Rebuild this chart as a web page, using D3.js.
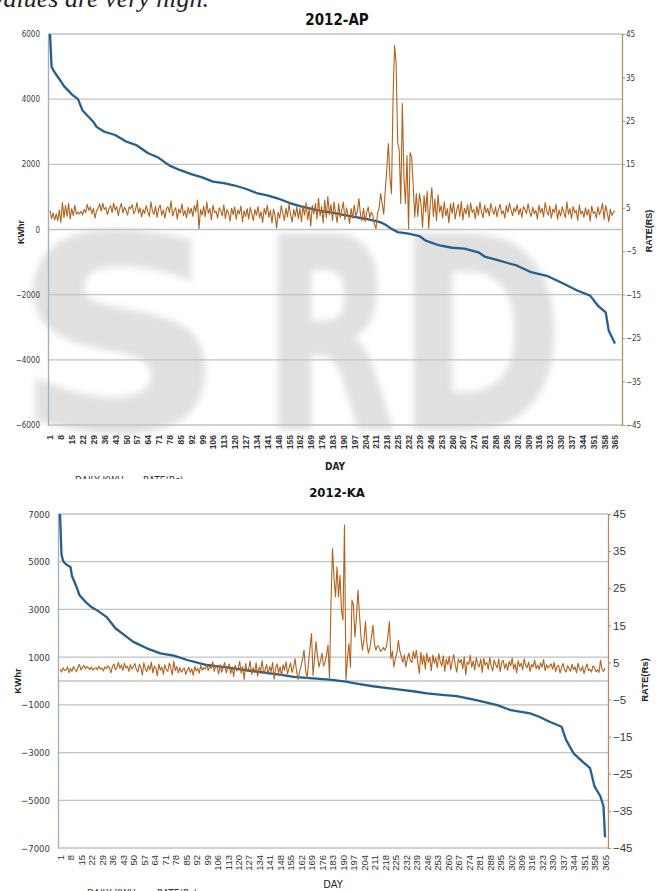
<!DOCTYPE html>
<html lang="en">
<head>
<meta charset="UTF-8">
<title>2012-AP / 2012-KA daily KWhr and rate</title>
<script src="https://d3js.org/d3.v7.min.js"></script>
<style>
  body { margin: 0; background: #fff; }
  svg { display: block; }
</style>
</head>
<body>
<svg width="661" height="891"></svg>
<script>
// ---- data ----
// x-axis labels (every 7th day)
var dayTicks = [1,8,15,22,29,36,43,50,57,64,71,78,85,92,99,106,113,120,127,134,141,148,155,162,169,176,183,190,197,204,211,218,225,232,239,246,253,260,267,274,281,288,295,302,309,316,323,330,337,344,351,358,365];
var rateTicks = [-45,-35,-25,-15,-5,5,15,25,35,45];
var apKwhTicks = [-6000,-4000,-2000,0,2000,4000,6000];
var kaKwhTicks = [-7000,-5000,-3000,-1000,1000,3000,5000,7000];

// 2012-AP : sorted daily KWhr, read at these days
var apDays = [1,2,3,5,8,10,12,15,19,22,25,29,31,36,43,50,57,64,71,78,85,92,99,106,113,120,127,134,141,148,155,162,169,176,183,190,197,204,211,214,218,221,225,232,239,243,252,260,268,277,281,290,302,311,321,330,341,349,354,359,361,363,365];
var apKwh = [6000,5000,4900,4750,4550,4400,4300,4150,4000,3650,3500,3300,3150,3000,2900,2700,2580,2350,2200,1960,1820,1700,1600,1470,1420,1350,1250,1120,1050,950,820,720,640,560,520,450,390,330,260,220,120,20,-80,-130,-200,-340,-490,-560,-590,-700,-830,-950,-1110,-1310,-1420,-1620,-1880,-2030,-2340,-2540,-3110,-3310,-3500];
// 2012-AP : rate (Rs), day 1..365
var apRate = [
 4.4,2.5,3.8,2.2,3.6,2.0,4.5,1.6,6.2,2.8,5.5,3.0,6.0,2.4,4.8,3.2,5.6,3.5,4.0,3.6,
 4.2,3.4,4.6,3.9,5.8,4.4,5.2,3.6,4.9,2.6,4.3,4.8,5.9,4.2,6.0,4.6,5.1,3.4,4.7,5.5,
 3.9,6.1,4.4,5.3,3.2,4.9,6.0,3.8,5.1,4.4,3.3,5.2,4.8,5.7,3.6,4.4,6.2,3.8,5.0,2.9,
 4.6,3.7,5.5,4.1,3.0,6.4,4.2,3.5,5.3,2.8,4.9,5.6,3.3,4.5,2.6,4.8,5.2,3.9,6.6,3.1,
 4.3,5.0,2.4,4.7,3.8,5.9,3.2,4.4,2.7,5.1,3.6,4.9,3.0,5.5,4.1,6.8,0.2,4.6,3.3,5.4,
 2.9,6.3,3.7,4.8,2.2,5.6,3.9,4.2,2.6,5.0,4.4,3.1,5.7,2.5,4.6,3.8,1.9,4.9,3.4,5.2,
 2.3,4.5,3.6,5.4,1.8,4.3,3.0,4.8,2.4,5.1,3.7,2.0,4.6,3.3,5.3,2.7,4.1,1.6,4.9,3.5,
 5.6,2.8,4.4,1.5,4.7,3.2,0.3,4.0,2.6,5.5,3.8,2.1,4.9,2.9,5.8,3.4,1.7,4.6,3.0,5.2,
 2.5,4.8,1.8,5.4,3.3,6.2,2.2,4.7,0.8,5.5,3.6,6.0,2.4,7.2,3.1,5.3,1.5,6.8,2.7,7.6,
 3.4,5.8,2.0,6.4,3.7,1.6,5.9,2.8,4.5,6.3,2.2,5.0,3.3,1.4,4.8,2.6,5.6,3.1,4.2,7.1,
 3.5,2.0,4.9,1.8,3.9,5.2,2.7,4.0,3.2,1.2,0.2,3.8,4.8,8.3,6.0,3.5,
 9.0,14.0,19.8,12.0,8.3,30.0,42.4,38.0,20.0,18.3,6.0,29.0,12.0,6.0,17.0,0.2,17.7,16.6,10.0,2.9,
 8.3,3.0,8.3,6.0,0.5,7.8,4.0,8.8,0.2,6.0,9.6,3.0,7.0,2.0,8.0,4.0,
 5.5,2.6,6.4,3.1,4.8,1.5,5.9,3.7,6.2,2.4,4.4,5.8,3.0,6.5,2.2,4.9,3.6,5.7,2.8,6.1,
 3.9,4.6,2.5,5.4,3.3,6.3,4.0,2.7,5.6,3.8,4.9,3.1,6.0,4.4,3.5,5.2,2.9,4.7,5.8,3.6,
 4.3,2.6,5.5,3.9,6.1,4.5,3.2,5.0,4.1,5.7,3.4,4.8,2.8,5.3,4.6,3.7,5.9,4.0,3.0,5.1,
 3.6,4.4,2.4,5.6,3.8,4.9,2.9,6.2,4.2,3.3,5.4,2.6,4.7,3.9,5.8,2.3,4.5,3.1,5.2,4.0,
 2.7,6.4,3.5,4.8,2.5,5.3,3.8,4.4,2.1,5.7,3.6,4.2,2.8,5.0,3.3,4.6,1.9,5.4,3.7,4.1,
 2.6,5.2,3.4,4.5,6.0,2.3,5.5,3.9,1.8,4.7,3.2,4.0,4.3
];

// 2012-KA : sorted daily KWhr, read at these days
var kaDays = [1,2,3,4,6,8,9,12,14,18,22,26,32,38,44,50,59,68,77,86,99,108,117,128,139,150,157,170,181,192,200,210,220,228,238,246,256,266,279,293,302,315,321,328,336,339,344,350,355,358,362,364,365];
var kaKwh = [7000,5300,5050,4950,4850,4780,4400,3950,3600,3320,3100,2950,2690,2210,1920,1640,1370,1160,1060,880,670,600,530,430,340,250,170,110,60,-30,-120,-220,-300,-360,-440,-520,-580,-630,-800,-1010,-1220,-1360,-1500,-1710,-1920,-2470,-3030,-3380,-3650,-4420,-4840,-5260,-6550];
// 2012-KA : rate (Rs), day 1..365
var kaRate = [
 3.2,2.4,3.6,2.8,3.0,3.8,2.2,3.4,2.6,3.9,3.1,2.5,3.7,4.5,3.0,3.6,4.2,3.3,3.9,3.5,
 3.1,3.8,2.9,3.4,3.6,3.0,4.0,3.2,3.5,2.7,3.8,3.3,4.1,3.6,2.2,3.9,4.6,3.0,3.7,5.0,
 3.4,4.3,2.8,4.8,3.5,4.0,2.6,4.4,3.2,3.9,4.7,3.1,2.4,4.5,3.6,1.6,4.9,3.3,2.5,4.2,
 3.0,5.1,2.2,4.0,3.4,1.4,4.6,2.9,3.8,1.8,4.4,3.1,2.6,4.8,3.5,1.6,5.3,2.8,3.9,2.2,
 3.6,2.4,3.0,3.5,1.8,2.9,3.7,2.3,3.3,1.5,3.9,2.7,3.4,2.1,4.2,2.9,3.6,3.2,4.5,2.8,
 3.9,3.4,5.2,2.6,4.1,3.6,1.9,4.4,2.4,3.7,5.0,2.2,3.5,4.6,2.0,3.8,1.2,4.3,2.7,3.4,
 5.3,2.1,3.9,0.4,4.7,2.6,3.3,5.4,1.8,3.6,2.4,4.9,1.3,3.7,2.8,5.5,2.0,3.1,4.4,1.7,
 3.9,2.5,5.0,0.5,3.4,4.6,2.2,3.8,1.4,4.4,2.9,5.2,1.9,3.5,4.8,2.3,3.7,6.0,2.6,0.4,
 2.5,4.0,6.0,8.3,3.0,0.8,5.0,9.0,12.8,1.5,6.0,10.6,6.5,3.8,5.5,7.5,4.0,5.0,7.0,9.7,
 0.8,20.9,35.7,28.0,22.7,30.8,22.7,28.5,19.1,16.4,42.0,0.3,6.0,10.1,3.8,21.8,20.4,11.9,17.0,24.5,
 18.0,11.9,8.3,11.0,16.0,10.0,7.5,9.0,11.9,15.0,10.0,8.3,9.5,9.2,8.0,8.3,9.0,8.3,9.2,12.0,
 16.0,6.0,8.0,3.8,6.0,7.5,11.0,8.0,6.6,5.0,7.0,3.8,6.0,7.5,5.5,5.0,8.0,6.0,8.3,5.0,
 2.0,7.8,4.5,6.9,3.2,7.5,5.0,6.4,2.8,7.0,4.8,6.2,3.5,7.4,5.2,4.0,6.8,2.6,5.9,4.4,
 6.6,3.0,5.5,7.1,4.2,2.4,6.0,4.9,5.8,3.3,6.5,1.6,5.2,4.5,6.9,3.7,5.4,2.9,6.3,4.6,
 3.8,5.9,2.3,6.1,4.3,5.0,3.1,6.4,4.0,2.7,5.7,4.4,3.5,6.0,2.5,4.9,5.6,3.4,4.7,2.9,
 5.3,4.1,6.2,3.2,4.6,2.2,5.5,3.9,4.8,3.0,6.0,4.2,3.6,5.1,2.6,4.5,3.8,5.6,3.3,4.3,
 3.1,4.9,3.7,5.8,2.8,4.4,3.5,4.0,4.6,3.2,5.0,2.5,3.9,4.2,2.1,3.6,4.7,3.0,2.4,4.1,
 3.4,2.6,4.5,3.1,3.8,2.2,4.8,3.3,2.7,4.0,2.0,3.5,4.6,2.8,3.2,2.4,4.1,3.6,2.5,3.0,
 2.3,5.6,3.1,2.6,3.5
];

var narrow = "'DejaVu Sans Condensed', 'Liberation Sans', sans-serif";

var svg = d3.select("svg");
var defs = svg.append("defs");
defs.append("filter").attr("id", "blur")
    .attr("x", "-10%").attr("y", "-10%").attr("width", "120%").attr("height", "120%")
  .append("feGaussianBlur").attr("stdDeviation", 3.5);
defs.append("clipPath").attr("id", "topClip")
  .append("rect").attr("x", 0).attr("y", 0).attr("width", 661).attr("height", 479);

// cut-off line of body text above the first chart
svg.append("text")
    .attr("x", -8).attr("y", 7)
    .attr("font-family", "Liberation Serif").attr("font-style", "italic")
    .attr("font-size", 26).attr("fill", "#222")
    .text("values are very high.");

// faint watermark behind the first chart
var wm = svg.append("g").attr("filter", "url(#blur)")
    .attr("font-family", "DejaVu Sans").attr("font-weight", "bold")
    .attr("font-size", 270).attr("fill", "#e0e0e0");
wm.append("text").attr("x", 12).attr("y", 430).attr("textLength", 215)
    .attr("lengthAdjust", "spacingAndGlyphs").text("S");
wm.append("text").attr("x", 262).attr("y", 430).attr("textLength", 135)
    .attr("lengthAdjust", "spacingAndGlyphs").text("R");
wm.append("text").attr("x", 395).attr("y", 430).attr("textLength", 170)
    .attr("lengthAdjust", "spacingAndGlyphs").text("D");

function drawChart(c) {
    var x = d3.scaleLinear().domain([1, 365]).range([c.x0, c.x1]);
    var yL = d3.scaleLinear().domain(c.kwhDomain).range([c.bottom, c.top]);
    var yR = d3.scaleLinear().domain([-45, 45]).range([c.bottom, c.top]);

    var g = svg.append("g");
    if (c.clip) g.attr("clip-path", "url(#" + c.clip + ")");

    // gridlines
    g.selectAll("line.grid").data(c.kwhTicks).enter().append("line")
        .attr("class", "grid")
        .attr("x1", c.left).attr("x2", c.right)
        .attr("y1", d => yL(d)).attr("y2", d => yL(d))
        .attr("stroke", "#c2c2c2").attr("stroke-width", 1.3);
    if (c.zeroLine) {
        g.append("line")
            .attr("x1", c.left).attr("x2", c.right)
            .attr("y1", yL(0)).attr("y2", yL(0))
            .attr("stroke", "#c2c2c2").attr("stroke-width", 1.3);
    }

    // left axis
    var la = g.append("g").attr("transform", `translate(${c.left},0)`)
        .call(d3.axisLeft(yL).tickValues(c.kwhTicks).tickSize(0)
            .tickPadding(c.leftPad).tickSizeOuter(0).tickFormat(d3.format("d")));
    la.select(".domain").attr("stroke", c.leftColor).attr("stroke-width", 1.3);
    la.selectAll("text").attr("font-family", narrow)
        .attr("font-size", c.leftFont).attr("fill", "#3a3a3a");

    // right axis
    var ra = g.append("g").attr("transform", `translate(${c.right},0)`)
        .call(d3.axisRight(yR).tickValues(rateTicks).tickSize(3)
            .tickPadding(c.rightPad).tickSizeOuter(0).tickFormat(d3.format("d")));
    ra.select(".domain").attr("stroke", c.rightColor).attr("stroke-width", 1.3);
    ra.selectAll(".tick line").attr("stroke", c.rightColor);
    ra.selectAll("text").attr("font-family", c.rightFamily)
        .attr("font-size", c.rightFont).attr("fill", "#3a3a3a");

    // bottom axis, labels rotated
    var ba = g.append("g").attr("transform", `translate(0,${c.bottom})`)
        .call(d3.axisBottom(x).tickValues(dayTicks).tickSize(0).tickFormat(d3.format("d")));
    ba.select(".domain").remove();
    ba.selectAll("text")
        .attr("x", 0).attr("y", 0).attr("dy", "0.35em")
        .attr("transform", `translate(0,${c.xLabelGap}) rotate(-90)`)
        .style("text-anchor", "end")
        .attr("font-family", "Liberation Sans")
        .attr("font-weight", c.xBold ? "bold" : "normal")
        .attr("font-size", c.xFont).attr("fill", "#333");

    // series
    var kwhPts = c.days.map((d, i) => ({day: d, v: c.kwh[i]}));
    g.append("path").datum(kwhPts)
        .attr("fill", "none").attr("stroke", "#245f8e").attr("stroke-width", 2.3)
        .attr("stroke-linejoin", "round")
        .attr("d", d3.line().x(d => x(d.day)).y(d => yL(d.v)));
    g.append("path").datum(c.rate)
        .attr("fill", "none").attr("stroke", "#b3621d").attr("stroke-width", 1.1)
        .attr("stroke-linejoin", "round")
        .attr("d", d3.line().x((d, i) => x(i + 1)).y(d => yR(d)));

    // titles and axis names
    g.append("text").attr("x", c.titleX).attr("y", c.titleY)
        .attr("text-anchor", "middle").attr("font-family", narrow)
        .attr("font-weight", "bold").attr("font-size", c.titleFont).attr("fill", "#111")
        .text(c.title);
    g.append("text").attr("x", c.dayX).attr("y", c.dayY)
        .attr("text-anchor", "middle").attr("font-family", narrow)
        .attr("font-weight", c.dayBold ? "bold" : "normal")
        .attr("font-size", c.dayFont).attr("fill", "#222").text("DAY");
    g.append("text").attr("transform", `translate(${c.kwhX},${c.kwhY}) rotate(-90)`)
        .attr("text-anchor", "middle").attr("font-family", "Liberation Sans")
        .attr("font-weight", "bold").attr("font-size", c.nameFont).attr("fill", "#222")
        .text("KWhr");
    g.append("text").attr("transform", `translate(${c.rateX},${c.rateY}) rotate(-90)`)
        .attr("text-anchor", "middle").attr("font-family", "Liberation Sans")
        .attr("font-weight", "bold").attr("font-size", c.nameFont).attr("fill", "#222")
        .text(c.rateName);

    // legend (cut off by the page crop)
    g.append("text").attr("x", c.legX1).attr("y", c.legY)
        .attr("font-family", narrow).attr("font-size", 10)
        .attr("fill", "#333").text("DAILY KWH");
    g.append("text").attr("x", c.legX2).attr("y", c.legY)
        .attr("font-family", narrow).attr("font-size", 10)
        .attr("fill", "#333").text("RATE(Rs)");
}

drawChart({
    title: "2012-AP", titleX: 337, titleY: 25, titleFont: 15,
    days: apDays, kwh: apKwh, rate: apRate,
    kwhDomain: [-6000, 6000], kwhTicks: apKwhTicks, zeroLine: false,
    left: 48, right: 622, top: 34, bottom: 425, x0: 50, x1: 615,
    leftColor: "#9bb0c6", rightColor: "#a7986a",
    leftPad: 8, leftFont: 8, rightPad: 1, rightFont: 8, rightFamily: narrow,
    xLabelGap: 10, xFont: 8.5, xBold: true,
    dayX: 335, dayY: 470, dayFont: 10, dayBold: true,
    kwhX: 24, kwhY: 232, rateX: 652, rateY: 231, nameFont: 9, rateName: "RATE(RS)",
    legX1: 75, legX2: 143, legY: 484, clip: "topClip"
});

drawChart({
    title: "2012-KA", titleX: 337, titleY: 497, titleFont: 13,
    days: kaDays, kwh: kaKwh, rate: kaRate,
    kwhDomain: [-7000, 7000], kwhTicks: kaKwhTicks, zeroLine: true,
    left: 58, right: 608, top: 514, bottom: 848, x0: 60, x1: 605,
    leftColor: "#9bb0c6", rightColor: "#b48a68",
    leftPad: 8, leftFont: 9.5, rightPad: 2, rightFont: 11.5, rightFamily: "Liberation Sans",
    xLabelGap: 7, xFont: 9.5, xBold: false,
    dayX: 333, dayY: 888, dayFont: 11, dayBold: false,
    kwhX: 21, kwhY: 681, rateX: 648, rateY: 680, nameFont: 9.5, rateName: "RATE(Rs)",
    legX1: 87, legX2: 157, legY: 897, clip: null
});
</script>
</body>
</html>
